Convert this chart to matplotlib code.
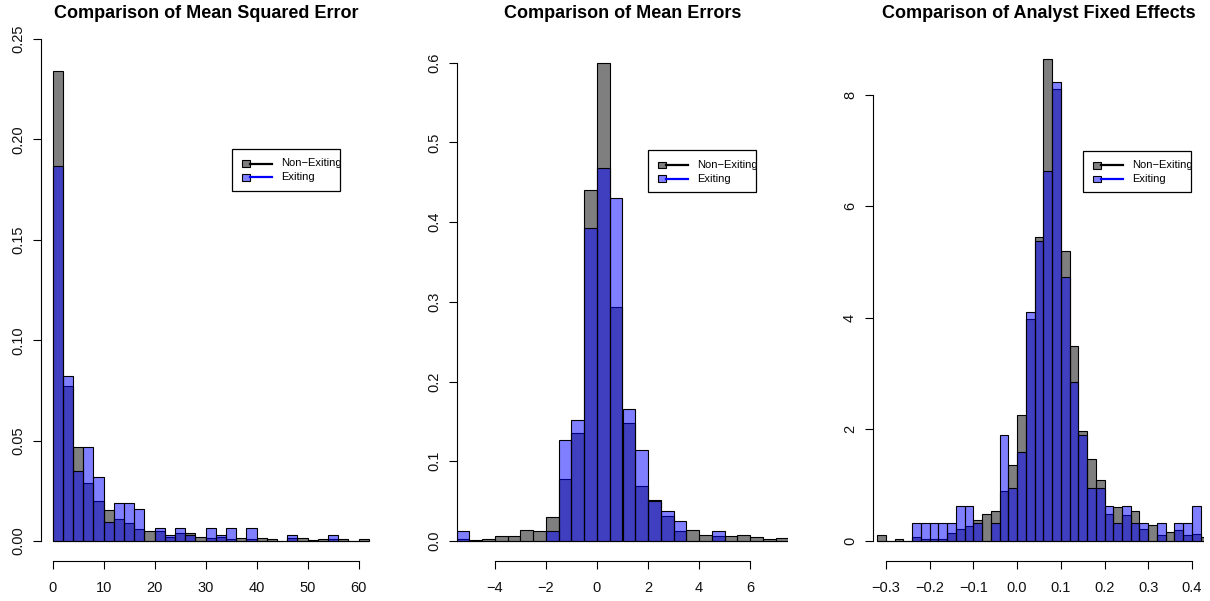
import numpy as np
import matplotlib
matplotlib.use("Agg")
import matplotlib.pyplot as plt
from matplotlib.patches import Rectangle
from matplotlib.lines import Line2D

plt.rcParams['font.family'] = ['Liberation Sans', 'DejaVu Sans']

# ---------------- data ----------------
titles = ["Comparison of Mean Squared Error",
          "Comparison of Mean Errors",
          "Comparison of Analyst Fixed Effects"]
legend_labels = ["Non\u2212Exiting", "Exiting"]

# Panel 1: mean squared error (bins of width 2 from 0 to 62)
mse_bin_start, mse_bin_width = 0.0, 2.0
mse_nonexit = [0.234, 0.077, 0.047, 0.029, 0.020, 0.0155, 0.011, 0.009, 0.006, 0.005,
               0.005, 0.002, 0.004, 0.0038, 0.0022, 0.0013, 0.002, 0.0008, 0.0017, 0.001,
               0.0017, 0.001, 0.0002, 0.0017, 0.0017, 0.0003, 0.001, 0.0008, 0.0008, 0.0002,
               0.0012]
mse_exit = [0.187, 0.082, 0.035, 0.047, 0.032, 0.0095, 0.019, 0.019, 0.016, 0.0,
            0.0063, 0.0032, 0.0063, 0.0032, 0.0, 0.0063, 0.0032, 0.0063, 0.0, 0.0063,
            0.0, 0.0, 0.0, 0.0032, 0.0, 0.0, 0.0, 0.0032, 0.0, 0.0,
            0.0]
mse_xticks = [0, 10, 20, 30, 40, 50, 60]
mse_xlabels = ["0", "10", "20", "30", "40", "50", "60"]
mse_yticks = [0.0, 0.05, 0.10, 0.15, 0.20, 0.25]
mse_ylabels = ["0.00", "0.05", "0.10", "0.15", "0.20", "0.25"]

# Panel 2: mean errors (bins of width 0.5 from -5.5 to 7.5)
me_bin_start, me_bin_width = -5.5, 0.5
me_nonexit = [0.002, 0.001, 0.003, 0.006, 0.006, 0.014, 0.0125, 0.030, 0.078, 0.136,
              0.44, 0.60, 0.294, 0.148, 0.069, 0.0515, 0.031, 0.013, 0.014, 0.0075,
              0.006, 0.0065, 0.0078, 0.005, 0.0025, 0.004]
me_exit = [0.0127, 0.0, 0.0, 0.0, 0.0, 0.0, 0.0, 0.0127, 0.127, 0.152,
           0.392, 0.468, 0.430, 0.165, 0.114, 0.0506, 0.038, 0.0253, 0.0, 0.0,
           0.0127, 0.0, 0.0, 0.0, 0.0, 0.0]
me_xticks = [-4, -2, 0, 2, 4, 6]
me_xlabels = ["\u22124", "\u22122", "0", "2", "4", "6"]
me_yticks = [0.0, 0.1, 0.2, 0.3, 0.4, 0.5, 0.6]
me_ylabels = ["0.0", "0.1", "0.2", "0.3", "0.4", "0.5", "0.6"]

# Panel 3: analyst fixed effects (bins of width 0.02 from -0.32 to 0.44)
afe_bin_start, afe_bin_width = -0.32, 0.02
afe_nonexit = [0.10, 0.0, 0.036, 0.0, 0.066, 0.036, 0.036, 0.03, 0.137, 0.221,
               0.269, 0.382, 0.478, 0.544, 0.89, 1.368, 2.264, 3.98, 5.454, 8.632,
               8.094, 5.203, 3.495, 1.97, 1.464, 1.087, 0.484, 0.615, 0.46, 0.544,
               0.221, 0.293, 0.10, 0.161, 0.197, 0.108, 0.131, 0.066]
afe_exit = [0.0, 0.0, 0.0, 0.0, 0.317, 0.317, 0.317, 0.317, 0.317, 0.633,
            0.633, 0.317, 0.0, 0.317, 1.90, 0.95, 1.595, 4.11, 5.376, 6.637,
            8.22, 4.737, 2.843, 1.90, 0.956, 0.956, 0.633, 0.317, 0.633, 0.317,
            0.317, 0.0, 0.317, 0.0, 0.317, 0.317, 0.633, 0.0]
afe_xticks = [-0.3, -0.2, -0.1, 0.0, 0.1, 0.2, 0.3, 0.4]
afe_xlabels = ["\u22120.3", "\u22120.2", "\u22120.1", "0.0", "0.1", "0.2", "0.3", "0.4"]
afe_yticks = [0, 2, 4, 6, 8]
afe_ylabels = ["0", "2", "4", "6", "8"]

# ---------------- layout ----------------
W, H = 1210, 601
fig = plt.figure(figsize=(W / 100, H / 100), dpi=100)

GRAY = (0, 0, 0, 0.5)
BLUE = (0, 0, 1, 0.5)

panels = [
    dict(start=mse_bin_start, width=mse_bin_width, a=mse_nonexit, b=mse_exit,
         xt=mse_xticks, xl=mse_xlabels, yt=mse_yticks, yl=mse_ylabels,
         left=41, xlim=(-2.29, 62.61), ylim=(-0.00996, 0.2595), leg=(231.7, 149)),
    dict(start=me_bin_start, width=me_bin_width, a=me_nonexit, b=me_exit,
         xt=me_xticks, xl=me_xlabels, yt=me_yticks, yl=me_ylabels,
         left=457, xlim=(-5.49, 7.49), ylim=(-0.0251, 0.6535), leg=(647.7, 150.3)),
    dict(start=afe_bin_start, width=afe_bin_width, a=afe_nonexit, b=afe_exit,
         xt=afe_xticks, xl=afe_xlabels, yt=afe_yticks, yl=afe_ylabels,
         left=873, xlim=(-0.3297, 0.4276), ylim=(-0.3585, 9.339), leg=(1082.7, 150.7)),
]

PW = 331
TOP, BOT = 20, 561


def fx(x):
    return x / W


def fy(y):
    return 1 - y / H


for title, p in zip(titles, panels):
    ax = fig.add_axes([fx(p['left']), fy(BOT), PW / W, (BOT - TOP) / H])
    n = len(p['a'])
    lefts = p['start'] + p['width'] * np.arange(n)
    ax.bar(lefts, p['a'], width=p['width'], align='edge', color=GRAY,
           edgecolor='black', linewidth=0.8)
    ax.bar(lefts, p['b'], width=p['width'], align='edge', color=BLUE,
           edgecolor='black', linewidth=0.8)
    ax.set_xlim(*p['xlim'])
    ax.set_ylim(*p['ylim'])
    ax.set_xticks(p['xt'], p['xl'])
    ax.set_yticks(p['yt'], p['yl'])
    ax.spines[['top', 'right']].set_visible(False)
    ax.spines['left'].set_bounds(p['yt'][0], p['yt'][-1])
    ax.spines['bottom'].set_bounds(p['xt'][0], p['xt'][-1])
    for s in ('left', 'bottom'):
        ax.spines[s].set_linewidth(0.8)
    ax.tick_params(direction='out', length=5.5, width=0.8, labelsize=10.5,
                   color='black', labelcolor='#111111')
    ax.tick_params(axis='x', pad=9)
    ax.tick_params(axis='y', pad=6)
    for lab in ax.get_yticklabels():
        lab.set_rotation(90)
        lab.set_va('center')
        lab.set_ha('right')

    # title
    cx = p['left'] + PW / 2
    fig.text(fx(cx), fy(17.5), title, ha='center', va='baseline',
             fontsize=13, fontweight='bold')

    # legend (R-style: filled box + line)
    lx, ly = p['leg']
    fig.add_artist(Rectangle((fx(lx), fy(ly + 41.7)), 108.6 / W, 41.7 / H,
                             transform=fig.transFigure, facecolor='white',
                             edgecolor='black', linewidth=0.9))
    for i, (lab, fc, lc) in enumerate(zip(legend_labels, [GRAY, BLUE], ['black', 'blue'])):
        cy = ly + 14.5 + i * 13.8
        fig.add_artist(Line2D([fx(lx + 18.3), fx(lx + 40)], [fy(cy), fy(cy)],
                              transform=fig.transFigure, color=lc, linewidth=1.6))
        fig.add_artist(Rectangle((fx(lx + 10), fy(cy + 3.3)), 8.3 / W, 6.6 / H,
                                 transform=fig.transFigure, facecolor=fc,
                                 edgecolor='black', linewidth=0.8))
        fig.text(fx(lx + 49.3), fy(cy), lab, ha='left', va='center', fontsize=8)

fig.savefig("out.png", dpi=100)
